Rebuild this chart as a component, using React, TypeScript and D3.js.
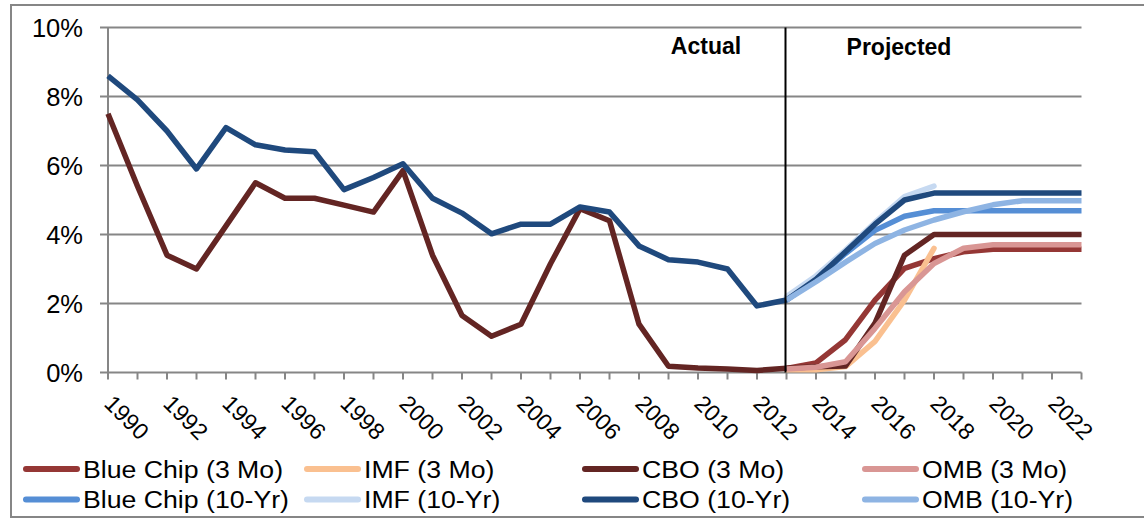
import React from "react";
import * as d3 from "d3";

// Categories: one per year, 1990 through 2023
const years: number[] = [
  1990, 1991, 1992, 1993, 1994, 1995, 1996, 1997, 1998, 1999, 2000, 2001,
  2002, 2003, 2004, 2005, 2006, 2007, 2008, 2009, 2010, 2011, 2012, 2013,
  2014, 2015, 2016, 2017, 2018, 2019, 2020, 2021, 2022, 2023,
];
const tickLabels: string[] = [
  "1990", "1992", "1994", "1996", "1998", "2000", "2002", "2004", "2006",
  "2008", "2010", "2012", "2014", "2016", "2018", "2020", "2022",
];
const yTicks: number[] = [0, 2, 4, 6, 8, 10];

// Projection years
const projYears: number[] = [2013, 2014, 2015, 2016, 2017, 2018, 2019, 2020, 2021, 2022, 2023];
const imfYears: number[] = [2013, 2014, 2015, 2016, 2017, 2018];

// Series values (percent)
const cbo3Mo: number[] = [
  7.5, 5.4, 3.4, 3.0, 4.25, 5.5, 5.05, 5.05, 4.85, 4.65, 5.85, 3.4, 1.65,
  1.05, 1.4, 3.15, 4.75, 4.4, 1.4, 0.18, 0.13, 0.1, 0.06, 0.12, 0.17, 0.19,
  1.43, 3.4, 4.0, 4.0, 4.0, 4.0, 4.0, 4.0,
];
const cbo10Yr: number[] = [
  8.6, 7.9, 7.0, 5.9, 7.1, 6.6, 6.45, 6.4, 5.3, 5.65, 6.05, 5.05, 4.62,
  4.02, 4.3, 4.3, 4.8, 4.65, 3.67, 3.27, 3.2, 3.0, 1.93, 2.1, 2.7, 3.5,
  4.3, 5.0, 5.2, 5.2, 5.2, 5.2, 5.2, 5.2,
];
const blueChip3Mo: number[] = [0.12, 0.28, 0.95, 2.1, 3.02, 3.3, 3.5, 3.57, 3.57, 3.57, 3.57];
const blueChip10Yr: number[] = [2.1, 2.7, 3.45, 4.12, 4.53, 4.69, 4.69, 4.69, 4.69, 4.69, 4.69];
const imf3Mo: number[] = [0.08, 0.08, 0.17, 0.9, 2.1, 3.6];
const imf10Yr: number[] = [2.2, 2.8, 3.55, 4.35, 5.1, 5.4];
const omb3Mo: number[] = [0.1, 0.15, 0.31, 1.28, 2.34, 3.16, 3.6, 3.7, 3.7, 3.7, 3.7];
const omb10Yr: number[] = [2.1, 2.63, 3.2, 3.74, 4.13, 4.42, 4.66, 4.86, 4.98, 4.98, 4.98];

type Series = { name: string; color: string; years: number[]; values: number[]; cap: "butt" | "round" };

const series: Series[] = [
  { name: "Blue Chip (3 Mo)", color: "#953735", years: projYears, values: blueChip3Mo, cap: "butt" },
  { name: "IMF (3 Mo)", color: "#FAC090", years: imfYears, values: imf3Mo, cap: "round" },
  { name: "CBO (3 Mo)", color: "#632523", years: years, values: cbo3Mo, cap: "butt" },
  { name: "OMB (3 Mo)", color: "#D99694", years: projYears, values: omb3Mo, cap: "butt" },
  { name: "Blue Chip (10-Yr)", color: "#558ED5", years: projYears, values: blueChip10Yr, cap: "butt" },
  { name: "IMF (10-Yr)", color: "#C6D9F1", years: imfYears, values: imf10Yr, cap: "round" },
  { name: "CBO (10-Yr)", color: "#1F497D", years: years, values: cbo10Yr, cap: "butt" },
  { name: "OMB (10-Yr)", color: "#8EB4E3", years: projYears, values: omb10Yr, cap: "butt" },
];

const legendOrder: string[][] = [
  ["Blue Chip (3 Mo)", "IMF (3 Mo)", "CBO (3 Mo)", "OMB (3 Mo)"],
  ["Blue Chip (10-Yr)", "IMF (10-Yr)", "CBO (10-Yr)", "OMB (10-Yr)"],
];

const W = 1144;
const H = 518;
const plot = { left: 108, right: 1081.5, top: 27.5, bottom: 372.5 };
const GRID = "#868686";
const FONT = "'Liberation Sans', Arial, sans-serif";

export default function App() {
  const x = d3.scaleLinear().domain([1990, 2023]).range([plot.left, plot.right]);
  const y = d3.scaleLinear().domain([0, 10]).range([plot.bottom, plot.top]);
  const divider = 2013;

  const lineGen = (s: Series) =>
    d3
      .line<number>()
      .x((_, i) => x(s.years[i]))
      .y((v) => y(v))(s.values) || "";

  const tickXs = years.map((yr) => x(yr));

  const legendCols = [23, 304, 582, 862];
  const legendRows = [469, 499.5];

  return (
    <div style={{ position: "fixed", left: 0, top: 0 }}>
      <svg width={W} height={H} style={{ display: "block", background: "#fff" }} fontFamily={FONT}>
        {/* outer frame */}
        <rect x={11} y={5} width={W + 20} height={512} fill="none" stroke={GRID} strokeWidth={2} />

        {/* horizontal gridlines with left tick marks */}
        {yTicks.map((t) => (
          <g key={t}>
            <line x1={plot.left - 8} x2={plot.right} y1={y(t)} y2={y(t)} stroke={GRID} strokeWidth={2} />
            <text x={83} y={y(t) + 9} fontSize={25.5} textAnchor="end" fill="#000">
              {t}%
            </text>
          </g>
        ))}

        {/* y axis */}
        <line x1={plot.left} x2={plot.left} y1={plot.top} y2={plot.bottom} stroke={GRID} strokeWidth={2} />

        {/* x axis ticks */}
        {tickXs.map((tx, i) => (
          <line key={i} x1={tx} x2={tx} y1={plot.bottom} y2={plot.bottom + 7} stroke={GRID} strokeWidth={2} />
        ))}

        {/* x tick labels, rotated */}
        {tickLabels.map((lbl) => {
          const tx = x(+lbl);
          return (
            <text
              key={lbl}
              transform={`translate(${tx - 5},${405}) rotate(45)`}
              fontSize={23}
              fill="#000"
            >
              {lbl}
            </text>
          );
        })}

        {/* series lines */}
        {series.map((s) => (
          <path
            key={s.name}
            d={lineGen(s)}
            fill="none"
            stroke={s.color}
            strokeWidth={5.5}
            strokeLinejoin="round"
            strokeLinecap={s.cap}
          />
        ))}

        {/* actual / projected divider */}
        <line x1={x(divider) - 1} x2={x(divider) - 1} y1={plot.top} y2={plot.bottom} stroke="#000" strokeWidth={2} />
        <text x={706} y={54} fontSize={23} fontWeight="bold" textAnchor="middle" fill="#000">
          Actual
        </text>
        <text x={899} y={55} fontSize={23} fontWeight="bold" textAnchor="middle" fill="#000">
          Projected
        </text>

        {/* legend */}
        {legendOrder.map((row, r) =>
          row.map((name, c) => {
            const s = series.find((d) => d.name === name)!;
            const lx = legendCols[c];
            const ly = legendRows[r];
            return (
              <g key={name}>
                <line x1={lx + 3} x2={lx + 54} y1={ly} y2={ly} stroke={s.color} strokeWidth={6} strokeLinecap="round" />
                <text
                  transform={`translate(${lx + 60},${ly + 8.5}) scale(1.16,1)`}
                  fontSize={23}
                  fill="#000"
                >
                  {name}
                </text>
              </g>
            );
          })
        )}
      </svg>
    </div>
  );
}
